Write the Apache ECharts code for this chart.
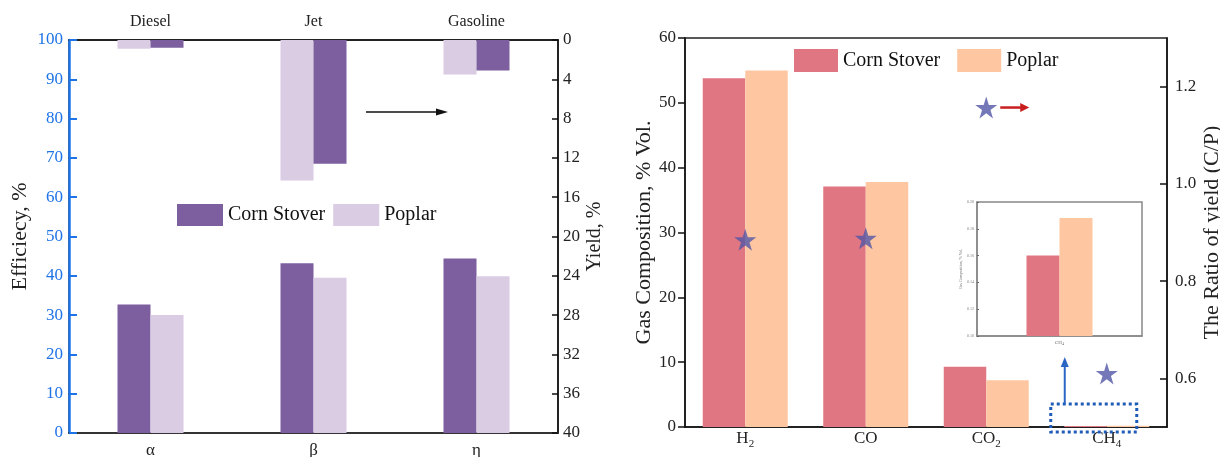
<!DOCTYPE html>
<html><head><meta charset="utf-8">
<script src="https://cdn.jsdelivr.net/npm/echarts@6/dist/echarts.min.js"></script>
<style>html,body{margin:0;padding:0;background:#fff}#c{width:1220px;height:457px}</style>
</head><body><div id="c"></div><script>
// ---- Left panel data ----
const effCats = ['α', 'β', 'η'];
const fuelCats = ['Diesel', 'Jet', 'Gasoline'];
const effCorn = [32.7, 43.2, 44.4];
const effPoplar = [30.0, 39.5, 39.9];
const yieldCorn = [0.8, 12.6, 3.1];
const yieldPoplar = [0.9, 14.3, 3.5];
// ---- Right panel data ----
const gasCats = ['H2', 'CO', 'CO2', 'CH4'];
const gasCorn = [53.8, 37.1, 9.3, 0.16];
const gasPoplar = [55.0, 37.8, 7.2, 0.19];
const ratioCP = [0.885, 0.888, 1.157, 0.61];
const ratioTicks = [0.6, 0.8, 1.0, 1.2];
// ---- Inset data ----
const insetCats = ['CH4'];
const insetCorn = [0.16];
const insetPoplar = [0.188];

const SERIF = '"Liberation Serif","Times New Roman",serif';
const C_DARK = '#7D5FA0', C_LIGHT = '#D9CCE3';
const C_CORN = '#E07682', C_POP = '#FEC7A1';
const BLUE = '#1E73E6';
const STAR = 'path://M50,0 L61.2,34.5 L97.6,34.5 L68.2,55.9 L79.4,90.5 L50,69.1 L20.6,90.5 L31.8,55.9 L2.4,34.5 L38.8,34.5 Z';

function sub(v) {
  return v.split(/(\d+)/).filter(Boolean).map(p => /\d/.test(p) ? '{s|' + p + '}' : '{n|' + p + '}').join('');
}

const chart = echarts.init(document.getElementById('c'), null, {renderer: 'canvas'});
const option = {
  backgroundColor: '#fff',
  animation: false,
  textStyle: {fontFamily: SERIF},
  grid: [
    {left: 69, top: 40, width: 489, height: 393, outerBoundsMode: 'none', containLabel: false, show: true, borderColor: '#222', borderWidth: 1.5, backgroundColor: 'transparent'},
    {left: 685, top: 38, width: 482, height: 389, outerBoundsMode: 'none', containLabel: false, show: true, borderColor: '#222', borderWidth: 1.5, backgroundColor: 'transparent'},
    {left: 977, top: 202, width: 165, height: 134, outerBoundsMode: 'none', containLabel: false, show: true, borderColor: '#888', borderWidth: 1.5, backgroundColor: '#fff'}
  ],
  legend: [
    {left: 172, top: 199, itemWidth: 46, itemHeight: 22, itemGap: 8, icon: 'rect',
     data: ['Corn Stover', 'Poplar'], textStyle: {fontFamily: SERIF, fontSize: 20, color: '#111'}},
    {left: 789, top: 44, itemWidth: 44, itemHeight: 23, itemGap: 17, icon: 'rect',
     data: ['Corn Stover (gas)', 'Poplar (gas)'], formatter: n => n.replace(' (gas)', ''),
     textStyle: {fontFamily: SERIF, fontSize: 20, color: '#111'}}
  ],
  xAxis: [
    {gridIndex: 0, type: 'category', data: effCats, position: 'bottom',
     axisLine: {lineStyle: {color: '#333', width: 2}}, axisTick: {show: false},
     axisLabel: {fontFamily: SERIF, fontSize: 17, color: '#222', margin: 9}},
    {gridIndex: 0, type: 'category', data: fuelCats, position: 'top',
     axisLine: {lineStyle: {color: '#111', width: 1.5}}, axisTick: {show: false},
     axisLabel: {fontFamily: SERIF, fontSize: 16, color: '#222', margin: 10}},
    {gridIndex: 1, type: 'category', data: gasCats, position: 'bottom',
     axisLine: {lineStyle: {color: '#111', width: 1.5}}, axisTick: {show: false},
     axisLabel: {margin: 3, formatter: v => sub(v),
       rich: {n: {fontFamily: SERIF, fontSize: 17, color: '#222', lineHeight: 22, verticalAlign: 'top'},
              s: {fontFamily: SERIF, fontSize: 11, color: '#222', lineHeight: 22, verticalAlign: 'top', padding: [9, 0, 0, 0]}}}},
    {gridIndex: 2, type: 'category', data: insetCats, position: 'bottom',
     axisLine: {lineStyle: {color: '#888', width: 1.5}}, axisTick: {show: false},
     axisLabel: {margin: 4, formatter: v => sub(v),
       rich: {n: {fontFamily: SERIF, fontSize: 5, color: '#666'}, s: {fontFamily: SERIF, fontSize: 4, color: '#666', padding: [2, 0, 0, 0]}}}}
  ],
  yAxis: [
    {gridIndex: 0, type: 'value', min: 0, max: 100, interval: 10, position: 'left',
     name: 'Efficiecy, %', nameLocation: 'middle', nameGap: 38,
     nameTextStyle: {fontFamily: SERIF, fontSize: 22, color: '#222'},
     axisLine: {show: true, lineStyle: {color: BLUE, width: 2.5}},
     axisTick: {show: true, inside: true, length: 8, lineStyle: {color: BLUE, width: 2}},
     axisLabel: {fontFamily: SERIF, fontSize: 17, color: BLUE, margin: 6},
     splitLine: {show: false}},
    {gridIndex: 0, type: 'value', min: 0, max: 40, interval: 4, inverse: true, position: 'right',
     name: 'Yield, %', nameLocation: 'middle', nameGap: 27,
     nameTextStyle: {fontFamily: SERIF, fontSize: 20, color: '#222'},
     axisLine: {show: true, lineStyle: {color: '#111', width: 1.5}},
     axisTick: {show: true, inside: true, length: 6, lineStyle: {color: '#111', width: 1.5}},
     axisLabel: {fontFamily: SERIF, fontSize: 17, color: '#222', margin: 5},
     splitLine: {show: false}},
    {gridIndex: 1, type: 'value', min: 0, max: 60, interval: 10, position: 'left',
     name: 'Gas Composition, % Vol.', nameLocation: 'middle', nameGap: 27,
     nameTextStyle: {fontFamily: SERIF, fontSize: 22, color: '#222'},
     axisLine: {show: true, lineStyle: {color: '#111', width: 1.5}},
     axisTick: {show: true, inside: false, length: 7, lineStyle: {color: '#111', width: 1.5}},
     axisLabel: {fontFamily: SERIF, fontSize: 17, color: '#222', margin: 9},
     splitLine: {show: false}},
    {gridIndex: 1, type: 'value', min: 0.5, max: 1.3, interval: 0.1, position: 'right',
     name: 'The Ratio of yield (C/P)', nameLocation: 'middle', nameGap: 34,
     nameTextStyle: {fontFamily: SERIF, fontSize: 22, color: '#222'},
     axisLine: {show: true, lineStyle: {color: '#111', width: 1.5}},
     axisTick: {show: true, inside: true, length: 7, customValues: ratioTicks, lineStyle: {color: '#111', width: 1.5}},
     axisLabel: {fontFamily: SERIF, fontSize: 17, color: '#222', margin: 8, customValues: ratioTicks, formatter: v => v.toFixed(1)},
     splitLine: {show: false}},
    {gridIndex: 2, type: 'value', min: 0.10, max: 0.20, interval: 0.02, position: 'left',
     name: 'Gas Composition, % Vol.', nameLocation: 'middle', nameGap: 14,
     nameTextStyle: {fontFamily: SERIF, fontSize: 4, color: '#666'},
     axisLine: {show: true, lineStyle: {color: '#888', width: 1.5}},
     axisTick: {show: true, inside: true, length: 2, lineStyle: {color: '#666', width: 1}},
     axisLabel: {fontFamily: SERIF, fontSize: 4, color: '#777', margin: 3, formatter: v => v.toFixed(2)},
     splitLine: {show: false}}
  ],
  series: [
    {name: 'Corn Stover', type: 'bar', xAxisIndex: 0, yAxisIndex: 0, data: effCorn, barWidth: 33, barGap: '0%', itemStyle: {color: C_DARK}},
    {name: 'Poplar', type: 'bar', xAxisIndex: 0, yAxisIndex: 0, data: effPoplar, barWidth: 33, barGap: '0%', itemStyle: {color: C_LIGHT}},
    {name: 'Poplar', type: 'bar', xAxisIndex: 1, yAxisIndex: 1, data: yieldPoplar, barWidth: 33, barGap: '0%', itemStyle: {color: C_LIGHT}},
    {name: 'Corn Stover', type: 'bar', xAxisIndex: 1, yAxisIndex: 1, data: yieldCorn, barWidth: 33, barGap: '0%', itemStyle: {color: C_DARK}},
    {name: 'Corn Stover (gas)', type: 'bar', xAxisIndex: 2, yAxisIndex: 2, data: gasCorn, barWidth: 42.5, barGap: '0%', itemStyle: {color: C_CORN}},
    {name: 'Poplar (gas)', type: 'bar', xAxisIndex: 2, yAxisIndex: 2, data: gasPoplar, barWidth: 42.5, barGap: '0%', itemStyle: {color: C_POP}},
    {name: 'Ratio', type: 'scatter', xAxisIndex: 2, yAxisIndex: 3, data: ratioCP, symbol: STAR, symbolSize: 22,
     itemStyle: {color: '#5256A6'}, z: 5},
    {name: 'Corn Stover (inset)', type: 'bar', xAxisIndex: 3, yAxisIndex: 4, data: insetCorn, barWidth: 33, barGap: '0%', itemStyle: {color: C_CORN}},
    {name: 'Poplar (inset)', type: 'bar', xAxisIndex: 3, yAxisIndex: 4, data: insetPoplar, barWidth: 33, barGap: '0%', itemStyle: {color: C_POP}}
  ]
};
chart.setOption(option);

// Annotations anchored to data positions
const co2Star = chart.convertToPixel({xAxisIndex: 2, yAxisIndex: 3}, [2, ratioCP[2]]);
const ch4Base = chart.convertToPixel({xAxisIndex: 2, yAxisIndex: 2}, [3, 0]);
const gx = co2Star[0], gy = co2Star[1];
const bx = ch4Base[0], by = ch4Base[1];
chart.setOption({
  graphic: [
    // black arrow in left panel (pointing to yield axis)
    {type: 'line', shape: {x1: 366, y1: 112, x2: 440, y2: 112}, style: {stroke: '#111', lineWidth: 1.5}, z: 10},
    {type: 'polygon', shape: {points: [[448, 112], [436, 108.5], [436, 115.5]]}, style: {fill: '#111'}, z: 10},
    // red arrow next to ratio star
    {type: 'line', shape: {x1: gx + 14, y1: gy, x2: gx + 36, y2: gy}, style: {stroke: '#C81E1E', lineWidth: 2.5}, z: 10},
    {type: 'polygon', shape: {points: [[gx + 43, gy], [gx + 34, gy - 4.5], [gx + 34, gy + 4.5]]}, style: {fill: '#C81E1E'}, z: 10},
    // dotted blue box around CH4 bars
    {type: 'rect', shape: {x: bx - 56, y: by - 23, width: 86, height: 28}, style: {fill: 'none', stroke: '#1F5CB8', lineWidth: 3, lineDash: [3, 3]}, z: 10},
    // blue arrow up to the inset
    {type: 'line', shape: {x1: bx - 42, y1: by - 23, x2: bx - 42, y2: by - 63}, style: {stroke: '#2B66C4', lineWidth: 2}, z: 10},
    {type: 'polygon', shape: {points: [[bx - 42, by - 70], [bx - 46, by - 60], [bx - 38, by - 60]]}, style: {fill: '#2B66C4'}, z: 10}
  ]
});
</script></body></html>
